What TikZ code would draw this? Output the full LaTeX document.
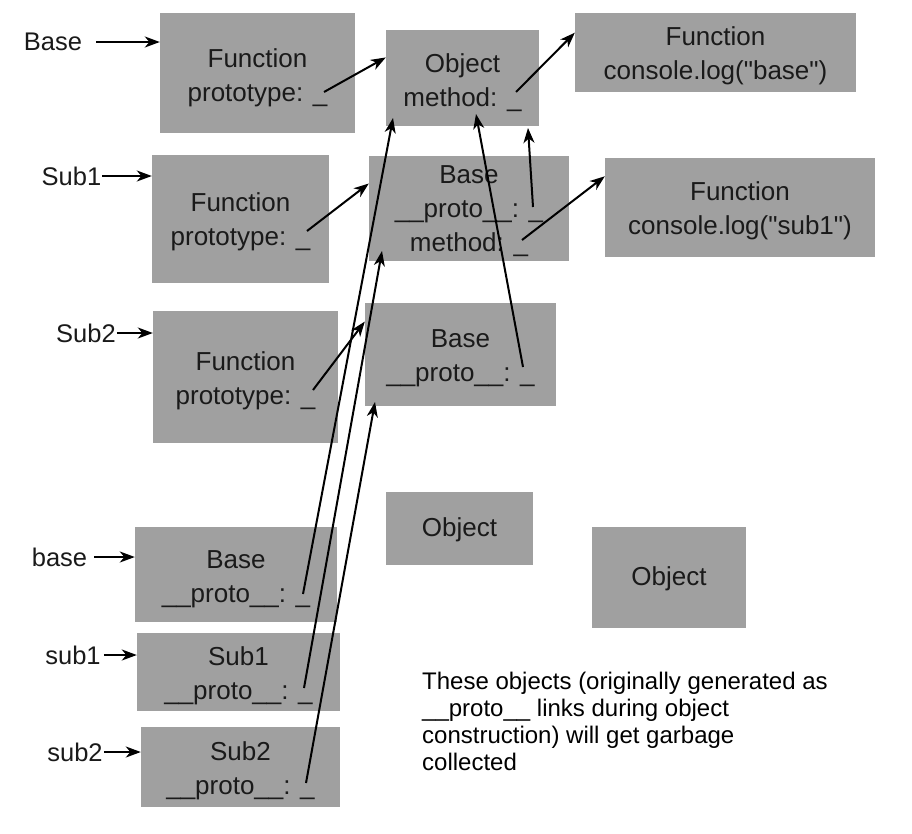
\documentclass[tikz,border=0pt]{standalone}
\usepackage{fontspec}
\setmainfont{Liberation Sans}[Ligatures=TeXOff]
\usetikzlibrary{arrows.meta, positioning}
\definecolor{boxgray}{HTML}{A0A0A0}
\definecolor{txtgray}{HTML}{1A1A1A}

\begin{document}
\begin{tikzpicture}
  [x = 1pt, y = -1pt,
  % box
  box/.style = {rectangle,
    fill = boxgray,
    inner sep = 0pt},
  % text in a box
  boxtext/.style = {inner sep = 0pt,
    align = center,
    text = txtgray,
    font = \fontsize{26}{34}\selectfont},
  % variable label
  varlbl/.style = {inner sep = 1pt,
    text = txtgray,
    font = \fontsize{25.5}{30}\selectfont},
  % line
  line/.style = {draw, line width = 2pt,
    -{Stealth[length = 15pt, width = 11pt, inset = 4.5pt]}},
  ]
  \useasboundingbox (0,0) rectangle (912,833);

  % boxes
  \node [box, minimum width = 195, minimum height = 120] (fbase) at (257.5,73) {};
  \node [box, minimum width = 153, minimum height = 96] (obj1) at (462.5,78) {};
  \node [box, minimum width = 281, minimum height = 79] (logbase) at (715.5,52.5) {};
  \node [box, minimum width = 177, minimum height = 128] (fsub1) at (240.5,219) {};
  \node [box, minimum width = 200, minimum height = 105] (base2) at (469,208.5) {};
  \node [box, minimum width = 270, minimum height = 99] (logsub1) at (740,207.5) {};
  \node [box, minimum width = 185, minimum height = 132] (fsub2) at (245.5,377) {};
  \node [box, minimum width = 191, minimum height = 103] (base3) at (460.5,354.5) {};
  \node [box, minimum width = 147, minimum height = 73] (obj2) at (459.5,528.5) {};
  \node [box, minimum width = 154, minimum height = 101] (obj3) at (669,577.5) {};
  \node [box, minimum width = 202, minimum height = 95] (ibase) at (236,574.5) {};
  \node [box, minimum width = 203, minimum height = 78] (isub1) at (238.5,672) {};
  \node [box, minimum width = 199, minimum height = 80] (isub2) at (240.5,767) {};

  % box contents
  \node [boxtext] (fbase-t) at ([yshift=-5pt]fbase.center) {Function\\prototype: \_};
  \node [boxtext] (obj1-t) at ([yshift=-5pt]obj1.center) {Object\\method: \_};
  \node [boxtext] (logbase-t) at ([yshift=-3pt]logbase.center) {Function\\console.log("base")};
  \node [boxtext] (fsub1-t) at ([yshift=-3pt]fsub1.center) {Function\\prototype: \_};
  \node [boxtext] (base2-t) at ([yshift=-3pt]base2.center) {Base\\\_\_proto\_\_: \_\\method: \_};
  \node [boxtext] (logsub1-t) at ([yshift=-3pt]logsub1.center) {Function\\console.log("sub1")};
  \node [boxtext] (fsub2-t) at ([yshift=-4pt]fsub2.center) {Function\\prototype: \_};
  \node [boxtext] (base3-t) at ([yshift=-4pt]base3.center) {Base\\\_\_proto\_\_: \_};
  \node [boxtext] (obj2-t) at ([yshift=-1pt]obj2.center) {Object};
  \node [boxtext] (obj3-t) at ([yshift=-1pt]obj3.center) {Object};
  \node [boxtext] (ibase-t) at ([yshift=-5pt]ibase.center) {Base\\\_\_proto\_\_: \_};
  \node [boxtext] (isub1-t) at ([yshift=-4pt]isub1.center) {Sub1\\\_\_proto\_\_: \_};
  \node [boxtext] (isub2-t) at ([yshift=-4pt]isub2.center) {Sub2\\\_\_proto\_\_: \_};

  % variable names
  \node [varlbl] (lBase) at (53,42) {Base};
  \node [varlbl] (lSub1) at (71.5,176) {Sub1};
  \node [varlbl] (lSub2) at (86,333) {Sub2};
  \node [varlbl] (lbase) at (59.5,557) {base};
  \node [varlbl] (lsub1) at (73,655) {sub1};
  \node [varlbl] (lsub2) at (75,752) {sub2};

  % note
  \node [anchor = north west, inner sep = 0pt, align = left,
    font = \fontsize{24}{27}\selectfont] (note) at (422,672)
    {These objects (originally generated as\\\_\_proto\_\_ links during object\\construction) will get garbage\\collected};

  % ends of the links
  \coordinate (fbase-p) at (324,92);
  \coordinate (fsub1-p) at (307,231);
  \coordinate (fsub2-p) at (313,390);
  \coordinate (obj1-m) at (516,92);
  \coordinate (base2-p) at (533,207);
  \coordinate (base2-m) at (522,240);
  \coordinate (base3-p) at (523,367);
  \coordinate (ibase-p) at (303,594);
  \coordinate (isub1-p) at (304,688);
  \coordinate (isub2-p) at (306,783);
  \coordinate (obj1-a) at (528,128);
  \coordinate (obj1-b) at (476,114);
  \coordinate (obj1-c) at (393,118);
  \coordinate (base2-c) at (382,251);
  \coordinate (base3-c) at (375,402);

  % path
  \path [line, shorten <= 13pt] (lBase) -- (lBase -| fbase.west);
  \path [line] (lSub1) -- (lSub1 -| fsub1.west);
  \path [line] (lSub2) -- (lSub2 -| fsub2.west);
  \path [line, shorten <= 6pt] (lbase) -- (lbase -| ibase.west);
  \path [line, shorten <= 2pt] (lsub1) -- (lsub1 -| isub1.west);
  \path [line] (lsub2) -- (lsub2 -| isub2.west);

  \path [line] (fbase-p) -- (obj1.165);
  \path [line] (fsub1-p) -- (base2.166);
  \path [line] (fsub2-p) -- (base3.161);
  \path [line] (obj1-m) -- (logbase.172);
  \path [line] (base2-m) -- (logsub1.167);
  \path [line] (base2-p) -- (obj1-a);
  \path [line] (base3-p) -- (obj1-b);
  \path [line] (ibase-p) -- (obj1-c);
  \path [line] (isub1-p) -- (base2-c);
  \path [line] (isub2-p) -- (base3-c);

\end{tikzpicture}
\end{document}
